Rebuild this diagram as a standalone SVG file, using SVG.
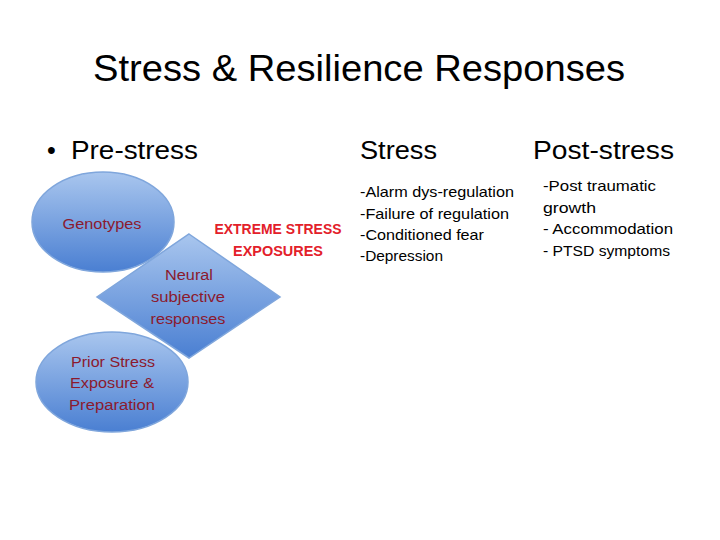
<svg xmlns="http://www.w3.org/2000/svg" width="720" height="540" viewBox="0 0 720 540">
<style>
.t{font-family:"Liberation Sans",Arial,sans-serif;fill:#000}
.h{font-size:36px}
.c{font-size:25px}
.s{font-size:14.5px}
.r{font-family:"Liberation Sans",Arial,sans-serif;font-size:14px;fill:#8b1a2e;text-anchor:middle}
.x{font-family:"Liberation Sans",Arial,sans-serif;font-size:14.5px;font-weight:bold;fill:#e3202a;text-anchor:middle}
.sh{fill:url(#g);stroke:#7fa6dc;stroke-width:1.5}
</style>
<defs>
<linearGradient id="g" x1="0" y1="0" x2="0" y2="1">
<stop offset="0" stop-color="#a9c6ee"/>
<stop offset="1" stop-color="#4a7fd2"/>
</linearGradient>
</defs>
<rect width="720" height="540" fill="#fff"/>
<text class="t h" x="93" y="81" textLength="532" lengthAdjust="spacingAndGlyphs">Stress &amp; Resilience Responses</text>
<text class="t c" x="47" y="159">•</text>
<text class="t c" x="71" y="159" textLength="127" lengthAdjust="spacingAndGlyphs">Pre-stress</text>
<text class="t c" x="360" y="159" textLength="77" lengthAdjust="spacingAndGlyphs">Stress</text>
<text class="t c" x="533" y="159" textLength="141" lengthAdjust="spacingAndGlyphs">Post-stress</text>
<g id="genotypes">
<ellipse class="sh" cx="103" cy="222" rx="71" ry="50"/>
<text class="r" x="102" y="229" textLength="79" lengthAdjust="spacingAndGlyphs">Genotypes</text>
</g>
<g id="neural">
<polygon class="sh" points="189,234 280,297 189,358 97,297"/>
<text class="r" x="189" y="280" textLength="48" lengthAdjust="spacingAndGlyphs">Neural</text>
<text class="r" x="188" y="302" textLength="74" lengthAdjust="spacingAndGlyphs">subjective</text>
<text class="r" x="188" y="324" textLength="75" lengthAdjust="spacingAndGlyphs">responses</text>
</g>
<g id="prior">
<ellipse class="sh" cx="112" cy="382" rx="76" ry="50"/>
<text class="r" x="113" y="367" textLength="84" lengthAdjust="spacingAndGlyphs">Prior Stress</text>
<text class="r" x="112" y="388" textLength="84" lengthAdjust="spacingAndGlyphs">Exposure &amp;</text>
<text class="r" x="112" y="410" textLength="86" lengthAdjust="spacingAndGlyphs">Preparation</text>
</g>
<g id="extreme">
<text class="x" x="278" y="234" textLength="127" lengthAdjust="spacingAndGlyphs">EXTREME STRESS</text>
<text class="x" x="278" y="256" textLength="90" lengthAdjust="spacingAndGlyphs">EXPOSURES</text>
</g>
<g id="stress-list">
<text class="t s" x="360" y="197" textLength="154" lengthAdjust="spacingAndGlyphs">-Alarm dys-regulation</text>
<text class="t s" x="360" y="219" textLength="149" lengthAdjust="spacingAndGlyphs">-Failure of regulation</text>
<text class="t s" x="360" y="240" textLength="124" lengthAdjust="spacingAndGlyphs">-Conditioned fear</text>
<text class="t s" x="360" y="261" textLength="83" lengthAdjust="spacingAndGlyphs">-Depression</text>
</g>
<g id="post-list">
<text class="t s" x="543" y="191" textLength="113" lengthAdjust="spacingAndGlyphs">-Post traumatic</text>
<text class="t s" x="543" y="213" textLength="53" lengthAdjust="spacingAndGlyphs">growth</text>
<text class="t s" x="543" y="234" textLength="130" lengthAdjust="spacingAndGlyphs">- Accommodation</text>
<text class="t s" x="543" y="256" textLength="127" lengthAdjust="spacingAndGlyphs">- PTSD symptoms</text>
</g>
<g id="connectors"/>
</svg>
